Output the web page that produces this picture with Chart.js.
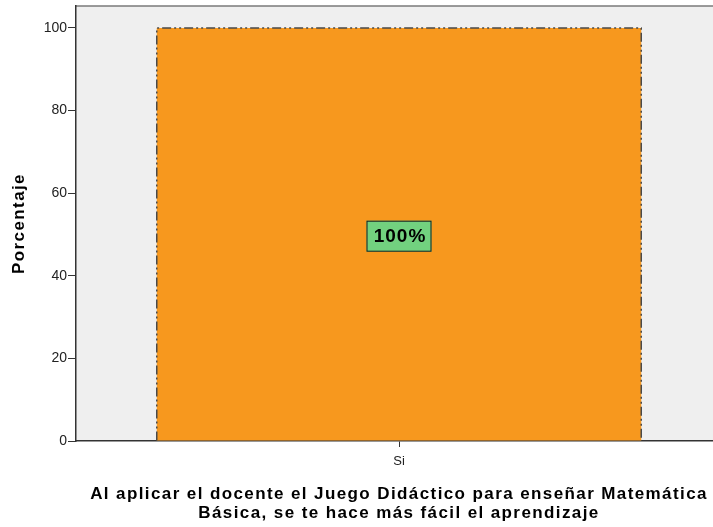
<!DOCTYPE html>
<html>
<head>
<meta charset="utf-8">
<script src="https://cdn.jsdelivr.net/npm/chart.js@4.4.0/dist/chart.umd.min.js"></script>
<style>
    html, body { margin: 0; padding: 0; background: #ffffff; overflow: hidden; }
    #wrap { width: 722px; height: 527px; }
</style>
</head>
<body>
<div id="wrap"><canvas id="chart" width="722" height="527"></canvas></div>
<script>
const categories = ["Si"];
const percentages = [100];
const yTicks = [0, 20, 40, 60, 80, 100];
const xTitle = ["Al aplicar el docente el Juego Didáctico para enseñar Matemática", "Básica, se te hace más fácil el aprendizaje"];
const yTitle = "Porcentaje";

const FONT = "Arial, 'Liberation Sans', sans-serif";

// plot background + top frame line
const plotBackground = {
    id: "plotBackground",
    beforeDraw(chart) {
        const { ctx, chartArea } = chart;
        ctx.save();
        ctx.fillStyle = "#efefef";
        ctx.fillRect(chartArea.left, chartArea.top, chartArea.right - chartArea.left, chartArea.bottom - chartArea.top);
        ctx.strokeStyle = "#7a7a7a";
        ctx.lineWidth = 1.5;
        ctx.beginPath();
        ctx.moveTo(chartArea.left, chartArea.top);
        ctx.lineTo(chartArea.right, chartArea.top);
        ctx.stroke();
        ctx.restore();
    }
};

// the titles in the original are drawn a bit wider than plain Arial
const spacedTitles = {
    id: "spacedTitles",
    afterLayout(chart) {
        Object.values(chart.scales).forEach(scale => {
            if (scale._spacedPatched) return;
            const orig = scale.drawTitle;
            scale.drawTitle = function (area) {
                const ctx = this.ctx;
                ctx.save();
                ctx.letterSpacing = "1.4px";
                orig.call(this, area);
                ctx.restore();
            };
            scale._spacedPatched = true;
        });
    }
};

// dash-dot border on the bars and the green value box
const barDecor = {
    id: "barDecor",
    afterDatasetsDraw(chart) {
        const { ctx } = chart;
        const meta = chart.getDatasetMeta(0);
        meta.data.forEach((bar, i) => {
            const left = bar.x - bar.width / 2;
            const right = bar.x + bar.width / 2;
            ctx.save();
            ctx.strokeStyle = "#4a4a4a";
            ctx.lineWidth = 1.5;
            ctx.setLineDash([9, 3, 2, 3, 2, 3]);
            ctx.beginPath();
            ctx.moveTo(left, bar.base);
            ctx.lineTo(left, bar.y);
            ctx.lineTo(right, bar.y);
            ctx.lineTo(right, bar.base);
            ctx.stroke();
            ctx.restore();

            const text = percentages[i] + "%";
            const cy = (bar.y + bar.base) / 2 + 2;
            ctx.save();
            ctx.font = "bold 19px " + FONT;
            ctx.letterSpacing = "1px";
            const w = 65;
            const h = 31;
            ctx.fillStyle = "#72d17f";
            ctx.fillRect(bar.x - w / 2, cy - h / 2, w, h);
            ctx.strokeStyle = "#1a1a1a";
            ctx.lineWidth = 1;
            ctx.strokeRect(bar.x - w / 2 + 0.5, cy - h / 2 + 0.5, w - 1, h - 1);
            ctx.fillStyle = "#000000";
            ctx.textAlign = "center";
            ctx.textBaseline = "middle";
            ctx.fillText(text, bar.x + 1, cy + 1);
            ctx.restore();
        });
    }
};

new Chart(document.getElementById("chart").getContext("2d"), {
    type: "bar",
    data: {
        labels: categories,
        datasets: [{
            data: percentages,
            backgroundColor: "#f7981e",
            borderWidth: 0,
            barPercentage: 0.75,
            categoryPercentage: 1.0,
        }],
    },
    options: {
        responsive: false,
        animation: false,
        layout: { padding: { top: 6, right: 0, left: 0, bottom: 0 } },
        plugins: {
            legend: { display: false },
            tooltip: { enabled: false },
        },
        scales: {
            x: {
                grid: { drawOnChartArea: false, offset: false, tickLength: 6, color: "#333333", lineWidth: 1 },
                border: { display: true, color: "#333333", width: 1.5 },
                ticks: { color: "#222222", font: { family: FONT, size: 13 }, padding: 7 },
                title: {
                    display: true,
                    text: xTitle,
                    color: "#000000",
                    font: { family: FONT, size: 17, weight: "bold", lineHeight: 1.12 },
                    padding: { top: 7, bottom: 4 },
                },
                afterFit(scale) { scale.height = 86; },
            },
            y: {
                min: 0,
                max: 105.3,
                afterBuildTicks(scale) { scale.ticks = yTicks.map(v => ({ value: v })); },
                grid: { drawOnChartArea: false, tickLength: 8, color: "#333333", lineWidth: 1 },
                border: { display: true, color: "#333333", width: 1.5 },
                ticks: { color: "#222222", font: { family: FONT, size: 14 }, padding: 1 },
                title: {
                    display: true,
                    text: yTitle,
                    color: "#000000",
                    font: { family: FONT, size: 17, weight: "bold" },
                    padding: { top: 9, bottom: 0 },
                },
                afterFit(scale) {
                    scale.width = 76;
                    scale.paddingTop = 0;
                },
            },
        },
    },
    plugins: [plotBackground, spacedTitles, barDecor],
});
</script>
</body>
</html>
